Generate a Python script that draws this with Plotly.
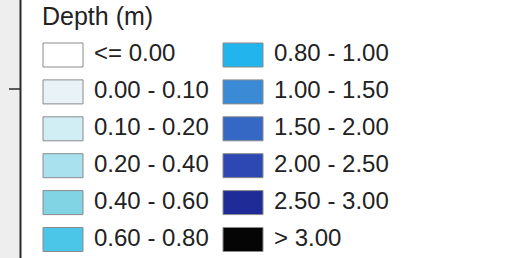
import plotly.graph_objects as go

title = "Depth (m)"
labels = ["<= 0.00", "0.00 - 0.10", "0.10 - 0.20", "0.20 - 0.40", "0.40 - 0.60", "0.60 - 0.80",
          "0.80 - 1.00", "1.00 - 1.50", "1.50 - 2.00", "2.00 - 2.50", "2.50 - 3.00", "> 3.00"]
colors = ["#ffffff", "#e9f3f7", "#d2eef5", "#a9e2ee", "#80d4e4", "#4bc6e9",
          "#22b4ec", "#3a8ad6", "#3567c4", "#2d48b3", "#1f2c98", "#050505"]

W, H = 509, 258
ROWS = 6
row_y0, row_dy = 55, 36.9
col_x = [43, 223]
sw_w, sw_h = 40, 24
txt_off = 51

fig = go.Figure()
shapes = []
shapes.append(dict(type="rect", xref="x", yref="y", x0=0, x1=20, y0=0, y1=H,
                   fillcolor="#eeeeee", line=dict(width=0), layer="below"))
shapes.append(dict(type="line", xref="x", yref="y", x0=20.5, x1=20.5, y0=0, y1=H,
                   line=dict(color="#2a2a2a", width=2)))
shapes.append(dict(type="line", xref="x", yref="y", x0=9, x1=20, y0=89, y1=89,
                   line=dict(color="#2a2a2a", width=1.5)))

tx, ty = [], []
for i, (lab, col) in enumerate(zip(labels, colors)):
    c, r = divmod(i, ROWS)
    cx = col_x[c]
    cy = row_y0 + r * row_dy
    shapes.append(dict(type="rect", xref="x", yref="y", x0=cx, x1=cx + sw_w,
                       y0=cy - sw_h / 2, y1=cy + sw_h / 2, fillcolor=col,
                       line=dict(color="#8a8a8a", width=1)))
    tx.append(cx + txt_off)
    ty.append(cy)

fig.add_trace(go.Scatter(x=tx, y=ty, text=labels, mode="text", textposition="middle right",
                         textfont=dict(family="Liberation Sans", size=24, color="#222222"),
                         hoverinfo="skip", showlegend=False))
fig.add_trace(go.Scatter(x=[42], y=[19], text=[title], mode="text", textposition="middle right",
                         textfont=dict(family="Liberation Sans", size=25, color="#222222"),
                         hoverinfo="skip", showlegend=False))

fig.update_layout(width=W, height=H, margin=dict(l=0, r=0, t=0, b=0),
                  paper_bgcolor="white", plot_bgcolor="white", shapes=shapes,
                  xaxis=dict(range=[0, W], visible=False, fixedrange=True),
                  yaxis=dict(range=[H, 0], visible=False, fixedrange=True))
fig.write_html("out.html", config={"displayModeBar": False},
               post_script="document.body.style.margin='0';document.body.style.overflow='hidden';")
